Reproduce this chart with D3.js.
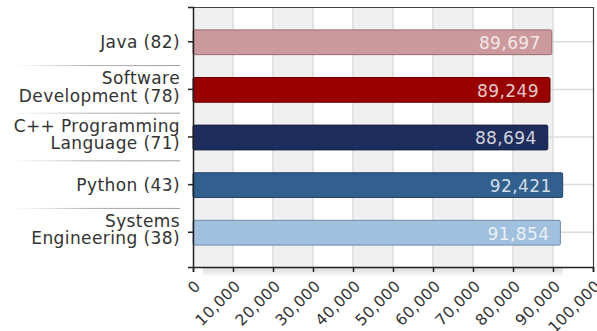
<!DOCTYPE html>
<html>
<head>
<meta charset="utf-8">
<script src="https://cdn.jsdelivr.net/npm/d3@7"></script>
<style>
  html, body { margin: 0; padding: 0; background: #fff; }
  svg { display: block; }
</style>
</head>
<body>
<div id="chart"></div>
<script>
// Category labels (each entry is a list of lines) and average salaries
const categories = [
  ["Java (82)"],
  ["Software", "Development (78)"],
  ["C++ Programming", "Language (71)"],
  ["Python (43)"],
  ["Systems", "Engineering (38)"]
];
const values = [89697, 89249, 88694, 92421, 91854];
const fills = ["#cc999d", "#990000", "#1f2d5c", "#315f8e", "#a0c0de"];
const strokes = ["#9b6a6f", "#6a0000", "#131d40", "#22466c", "#6e8cab"];
const xTicks = [0, 10000, 20000, 30000, 40000, 50000, 60000, 70000, 80000, 90000, 100000];

const W = 597, H = 331;
const plotLeft = 193, plotRight = 593, plotTop = 7, plotBottom = 267;
const FONT = "'DejaVu Sans', Verdana, sans-serif";

const svg = d3.select("#chart").append("svg")
  .attr("width", W).attr("height", H)
  .style("font-family", FONT);

const defs = svg.append("defs");
const sepGrad = defs.append("linearGradient").attr("id", "sepGrad");
sepGrad.append("stop").attr("offset", "0%").attr("stop-color", "#bbb").attr("stop-opacity", 0);
sepGrad.append("stop").attr("offset", "45%").attr("stop-color", "#aaa").attr("stop-opacity", 0.9);
sepGrad.append("stop").attr("offset", "100%").attr("stop-color", "#999").attr("stop-opacity", 1);

const shadowGrad = defs.append("linearGradient").attr("id", "shadowGrad")
  .attr("x1", 0).attr("y1", 0).attr("x2", 0).attr("y2", 1);
shadowGrad.append("stop").attr("offset", "0%").attr("stop-color", "#999").attr("stop-opacity", 0.35);
shadowGrad.append("stop").attr("offset", "100%").attr("stop-color", "#999").attr("stop-opacity", 0);

const x = d3.scaleLinear().domain([0, 100000]).range([plotLeft, plotRight]);
const y = d3.scaleBand().domain(d3.range(categories.length))
  .range([plotTop, plotBottom]).paddingInner(0.48).paddingOuter(0.47);

// Alternating column stripes
const cols = d3.pairs(xTicks);
svg.append("g").selectAll("rect").data(cols).join("rect")
  .attr("x", d => x(d[0])).attr("y", plotTop)
  .attr("width", d => x(d[1]) - x(d[0])).attr("height", plotBottom - plotTop)
  .attr("fill", (d, i) => i % 2 === 0 ? "#f0f0f0" : "#ffffff");

// Vertical gridlines
svg.append("g").selectAll("line").data(xTicks.slice(1, -1)).join("line")
  .attr("x1", d => x(d)).attr("x2", d => x(d))
  .attr("y1", plotTop).attr("y2", plotBottom)
  .attr("stroke", "#dcdcdc").attr("stroke-width", 1.5);

// Horizontal gridlines at category centres
svg.append("g").selectAll("line").data(d3.range(categories.length)).join("line")
  .attr("x1", plotLeft).attr("x2", plotRight)
  .attr("y1", d => y(d) + y.bandwidth() / 2).attr("y2", d => y(d) + y.bandwidth() / 2)
  .attr("stroke", "#dcdcdc").attr("stroke-width", 1.5);

// Bars
svg.append("g").selectAll("rect").data(values).join("rect")
  .attr("x", x(0)).attr("y", (d, i) => y(i) + 0.5)
  .attr("width", d => x(d) - x(0)).attr("height", y.bandwidth())
  .attr("rx", 1.5)
  .attr("fill", (d, i) => fills[i]).attr("stroke", (d, i) => strokes[i]).attr("stroke-width", 1);

// Value labels inside bars
const fmt = d3.format(",");
svg.append("g").selectAll("text").data(values).join("text")
  .attr("x", d => x(d) - 11).attr("y", (d, i) => y(i) + y.bandwidth() / 2 + 1.5)
  .attr("dy", "0.35em").attr("text-anchor", "end")
  .attr("font-size", 17).attr("letter-spacing", 0.4)
  .attr("fill", "#fff").attr("fill-opacity", 0.8)
  .text(d => fmt(d));

// Frame: top and right borders
svg.append("path")
  .attr("d", `M${plotLeft},${plotTop + 0.5}H${plotRight + 0.5}V${plotBottom}`)
  .attr("fill", "none").attr("stroke", "#444").attr("stroke-width", 1.2);

// Shadow beneath the bottom axis
svg.append("rect").attr("x", plotLeft + 10).attr("y", plotBottom + 1)
  .attr("width", plotRight - plotLeft - 40).attr("height", 9)
  .attr("fill", "url(#shadowGrad)");

// Bottom axis
const xAxis = d3.axisBottom(x).tickValues(xTicks).tickSize(5).tickFormat(fmt);
const gx = svg.append("g").attr("transform", `translate(0,${plotBottom})`).call(xAxis);
gx.select(".domain").attr("stroke", "#222").attr("stroke-width", 1.5);
gx.selectAll(".tick line").attr("stroke", "#222").attr("stroke-width", 1.5);
gx.selectAll(".tick text")
  .attr("font-family", FONT)
  .attr("font-size", 15.5).attr("letter-spacing", 0.3).attr("fill", "#333")
  .attr("text-anchor", "end")
  .attr("transform", "translate(8,20) rotate(-45)")
  .attr("dy", 0).attr("y", 0).attr("x", 0);

// Left axis
const yAxis = d3.axisLeft(y).tickSize(5).tickFormat("");
const gy = svg.append("g").attr("transform", `translate(${plotLeft},0)`).call(yAxis);
gy.select(".domain").attr("stroke", "#222").attr("stroke-width", 1.5);
gy.selectAll(".tick line").attr("stroke", "#222").attr("stroke-width", 1.5);

// Separators between category labels
svg.append("g").selectAll("rect").data(d3.range(1, categories.length)).join("rect")
  .attr("x", 12).attr("width", 168)
  .attr("y", i => (y(i - 1) + y(i) + y.bandwidth()) / 2 - 0.5)
  .attr("height", 1)
  .attr("fill", "url(#sepGrad)");

// Category labels
const lineH = 17.5;
const labels = svg.append("g").selectAll("text").data(categories).join("text")
  .attr("text-anchor", "end").attr("font-size", 17).attr("letter-spacing", 0.4)
  .attr("fill", "#333");
labels.selectAll("tspan").data((d, i) => d.map((t, j) => ({t, j, n: d.length, i}))).join("tspan")
  .attr("x", 180)
  .attr("y", d => y(d.i) + y.bandwidth() / 2 + 6 - (d.n - 1) * (lineH / 2 + 2.5) + d.j * lineH)
  .text(d => d.t);
</script>
</body>
</html>
